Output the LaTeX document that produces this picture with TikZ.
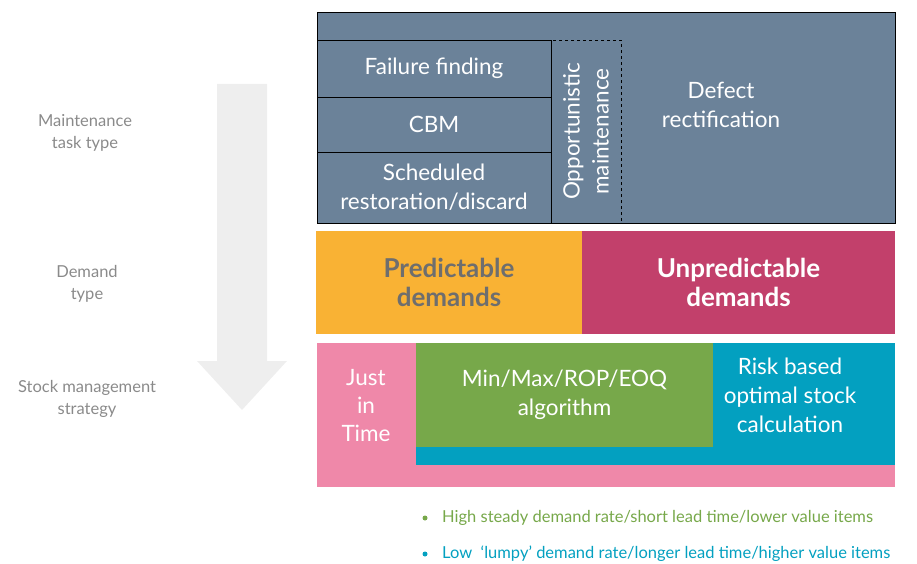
\documentclass[tikz,border=0pt]{standalone}
\usepackage{fontspec}
\setmainfont{Lato}
\usetikzlibrary{positioning}
\definecolor{slate}{HTML}{6B8299}
\definecolor{predorange}{HTML}{F9B234}
\definecolor{unpredred}{HTML}{C2406B}
\definecolor{jitpink}{HTML}{EF88A9}
\definecolor{eoqgreen}{HTML}{77A84A}
\definecolor{riskblue}{HTML}{03A0C0}
\definecolor{labelgrey}{HTML}{8A8A8A}
\definecolor{arrowgrey}{HTML}{EEEEEE}
\definecolor{darktext}{HTML}{6E6E6E}

\begin{document}
\begin{tikzpicture}[x=1pt,y=-1pt,font=\fontsize{22.5}{29}\selectfont]
	\tikzstyle{box}=[anchor=north west, inner sep=0pt, outer sep=0pt, text=white, align=center]
	\tikzstyle{taskbox}=[box, draw=black, thick, fill=slate]
	\tikzstyle{demandbox}=[box, font=\fontsize{26}{29}\selectfont\bfseries]
	\tikzstyle{side}=[text=labelgrey, align=center, font=\fontsize{16.5}{22}\selectfont]
	\tikzstyle{bullet}=[anchor=west, inner sep=0pt, font=\fontsize{16.5}{20}\selectfont]

	\useasboundingbox (0,0) rectangle (917,564);

	% big arrow on the left
	\fill[arrowgrey] (217,84) -- (267,84) -- (267,361) -- (287,361) -- (242,410) -- (197,361) -- (217,361) -- cycle;

	\node[side] (lmaint) at (85,133) {Maintenance\\task type};
	\node[side] (ldemand) at (87,284) {Demand\\type};
	\node[side] (lstock) at (87,399) {Stock management\\strategy};

	% maintenance task type
	\node[taskbox, minimum width=578, minimum height=211] (maint) at (317,12) {};
	\node[taskbox, minimum width=234, minimum height=57] (ff) at (317,40) {Failure finding};
	\node[taskbox, minimum width=234, minimum height=55] (cbm) at (317,97) {CBM};
	\node[taskbox, minimum width=234, minimum height=71] (sched) at (317,152) {Scheduled\\restoration/discard};
	\node[box, draw=black, thick, dashed, minimum width=70, minimum height=183] (opp) at (551,40) {};
	\node[rotate=90, text=white, align=center] (opptext) at (opp.center) {Opportunistic\\maintenance};
	\node[text=white, align=center] (defect) at (721,105) {Defect\\rectification};

	% demand type
	\node[demandbox, fill=predorange, text=darktext, minimum width=266, minimum height=103] (pred) at (316,231) {Predictable\\demands};
	\node[demandbox, fill=unpredred, minimum width=313, minimum height=103] (unpred) at (582,231) {Unpredictable\\demands};

	% stock management strategy
	\node[box, fill=jitpink, minimum width=578, minimum height=144] (jit) at (317,343) {};
	\node[text=white, align=center, font=\fontsize{22.5}{28}\selectfont] (jittext) at (366,406) {Just\\in\\Time};
	\node[box, fill=riskblue, minimum width=479, minimum height=122] (risk) at (416,343) {};
	\node[box, fill=eoqgreen, minimum width=297, minimum height=104] (eoq) at (416,343) {Min/Max/ROP/EOQ\\algorithm};
	\node[text=white, align=center] (risktext) at (790,395) {Risk based\\optimal stock\\calculation};

	% legend
	\fill[eoqgreen] (425,518) circle (2.5);
	\node[bullet, text=eoqgreen] (high) at (442,518) {High steady demand rate/short lead time/lower value items};
	\fill[riskblue] (425,554) circle (2.5);
	\node[bullet, text=riskblue] (low) at (442,554) {Low \ `lumpy' demand rate/longer lead time/higher value items};

\end{tikzpicture}
\end{document}
